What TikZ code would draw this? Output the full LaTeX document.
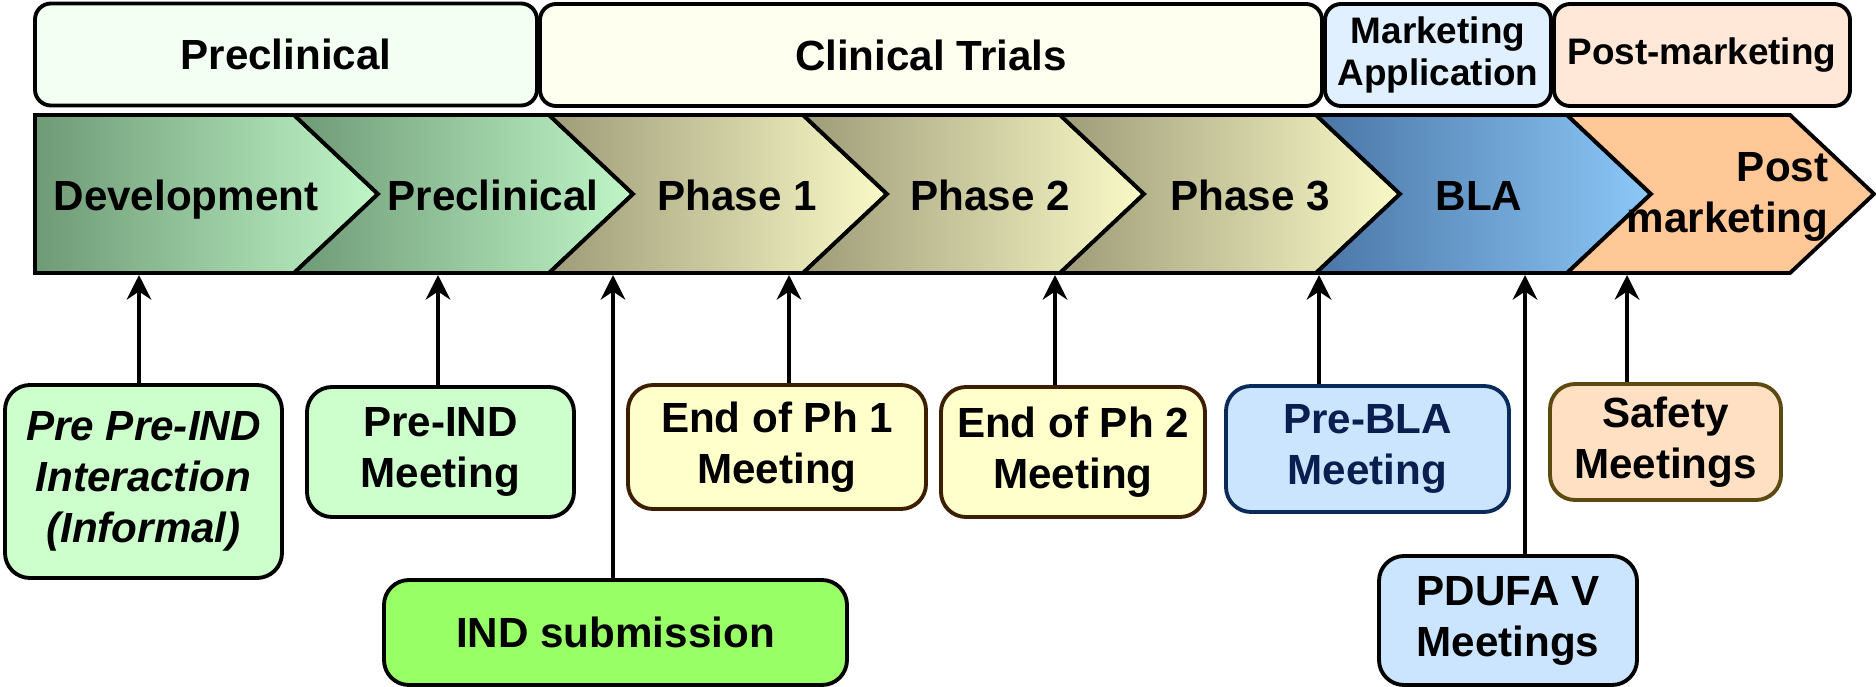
\documentclass[tikz,border=0pt]{standalone}
\usepackage{fontspec}
\setmainfont{Liberation Sans}
\usetikzlibrary{arrows.meta,positioning}
\definecolor{devdark}{HTML}{6E9A76}
\definecolor{devlight}{HTML}{C0F6C8}
\definecolor{phdark}{HTML}{9E9C78}
\definecolor{phlight}{HTML}{FAFAC8}
\definecolor{bladark}{HTML}{4A76A6}
\definecolor{blalight}{HTML}{8CC8F8}
\definecolor{postfill}{HTML}{FFC896}
\definecolor{preclbg}{HTML}{F4FFF4}
\definecolor{clinbg}{HTML}{FFFFF0}
\definecolor{markbg}{HTML}{E0F0FF}
\definecolor{postbg}{HTML}{FFE8D8}
\definecolor{meetgreen}{HTML}{CCFFCC}
\definecolor{meetyellow}{HTML}{FFFFCC}
\definecolor{indgreen}{HTML}{99FF66}
\definecolor{meetblue}{HTML}{CCE5FF}
\definecolor{meetpeach}{HTML}{FFE0C2}
\definecolor{brownline}{HTML}{3C1E00}
\definecolor{navyline}{HTML}{0A2A5A}
\definecolor{navytext}{HTML}{0A1E50}
\definecolor{oliveline}{HTML}{5C4A10}
\newcommand{\stagefont}{\bfseries\fontsize{12}{14.5}\selectfont}
\newcommand{\smallstagefont}{\bfseries\fontsize{10.5}{12.2}\selectfont}
\newcommand{\phasechev}[4]{%
  \path[chev, left color=#3, right color=#4]
    (#1,-1.15) -- (#2,-1.15) -- (#2+0.84,-1.94) -- (#2,-2.73)
    -- (#1,-2.73) -- (#1+0.84,-1.94) -- cycle;}
\tikzset{
  chev/.style={draw=black, line width=1.1pt, line join=miter},
  topbox/.style={draw=black, line width=1.1pt, rounded corners=0.16cm,
    minimum height=1.02cm, align=center, inner sep=1pt},
  meet/.style={draw=black, line width=1.1pt, rounded corners=0.25cm,
    align=center, inner sep=1pt},
  arr/.style={-{Stealth[length=7pt,width=7pt,inset=2.3pt]}, line width=1.3pt},
}

\begin{document}
\begin{tikzpicture}[font=\stagefont]
  \useasboundingbox (0,0) rectangle (18.76,-6.87);
  % headers
  \node[topbox, fill=preclbg, minimum width=5.02cm] (hPre) at (2.86,-0.545) {Preclinical};
  \node[topbox, fill=clinbg, minimum width=7.82cm] (hClin) at (9.31,-0.55) {Clinical Trials};
  \node[topbox, fill=markbg, minimum width=2.26cm, font=\smallstagefont] (hMark) at (14.38,-0.55) {Marketing\\Application};
  \node[topbox, fill=postbg, minimum width=2.96cm, font=\smallstagefont] (hPost) at (17.02,-0.55) {Post-marketing};
  % phase arrows
  \path[chev, left color=devdark, right color=devlight]
    (0.35,-1.15) -- (2.94,-1.15) -- (3.78,-1.94) -- (2.94,-2.73) -- (0.35,-2.73) -- cycle;
  \phasechev{2.94}{5.49}{devdark}{devlight}
  \phasechev{5.49}{8.03}{phdark}{phlight}
  \phasechev{8.03}{10.60}{phdark}{phlight}
  \phasechev{10.60}{13.16}{phdark}{phlight}
  \phasechev{13.16}{15.67}{bladark}{blalight}
  \phasechev{15.67}{17.90}{postfill}{postfill}
  \node[anchor=base] (sDev) at (1.86,-2.10) {Development};
  \node[anchor=base] (sPre) at (4.93,-2.10) {Preclinical};
  \node[anchor=base] (sPh1) at (7.37,-2.10) {Phase 1};
  \node[anchor=base] (sPh2) at (9.90,-2.10) {Phase 2};
  \node[anchor=base] (sPh3) at (12.50,-2.10) {Phase 3};
  \node[anchor=base] (sBLA) at (14.79,-2.10) {BLA};
  \node[align=right, anchor=east, inner sep=0pt] (sPost) at (18.29,-1.97) {Post\\marketing};
  % meetings
  \node[meet, fill=meetgreen, minimum width=2.77cm, minimum height=1.93cm,
    font=\stagefont\itshape] (mPrePre) at (1.435,-4.815) {Pre Pre-IND\\Interaction\\(Informal)};
  \node[meet, fill=meetgreen, minimum width=2.67cm, minimum height=1.30cm] (mPreIND) at (4.405,-4.52) {Pre-IND\\Meeting};
  \node[meet, fill=meetyellow, draw=brownline, minimum width=2.98cm, minimum height=1.24cm] (mEnd1) at (7.77,-4.47) {End of Ph 1\\Meeting};
  \node[meet, fill=indgreen, minimum width=4.63cm, minimum height=1.05cm] (mIND) at (6.155,-6.325) {IND submission};
  \node[meet, fill=meetyellow, draw=brownline, minimum width=2.64cm, minimum height=1.30cm] (mEnd2) at (10.73,-4.52) {End of Ph 2\\Meeting};
  \node[meet, fill=meetblue, draw=navyline, text=navytext, minimum width=2.83cm, minimum height=1.26cm] (mPreBLA) at (13.675,-4.49) {Pre-BLA\\Meeting};
  \node[meet, fill=meetblue, minimum width=2.58cm, minimum height=1.29cm] (mPDUFA) at (15.08,-6.205) {PDUFA V\\Meetings};
  \node[meet, fill=meetpeach, draw=oliveline, minimum width=2.31cm, minimum height=1.16cm] (mSafe) at (16.655,-4.42) {Safety\\Meetings};
  % arrow tips under the phases
  \coordinate (t1) at (1.39,-2.75);
  \coordinate (t2) at (4.38,-2.75);
  \coordinate (t3) at (6.13,-2.75);
  \coordinate (t4) at (7.89,-2.75);
  \coordinate (t5) at (10.55,-2.75);
  \coordinate (t6) at (13.19,-2.75);
  \coordinate (t7) at (15.25,-2.75);
  \coordinate (t8) at (16.27,-2.75);
  \path[arr]
  (t1 |- mPrePre.north) edge (t1)
  (t2 |- mPreIND.north) edge (t2)
  (t3 |- mIND.north) edge (t3)
  (t4 |- mEnd1.north) edge (t4)
  (t5 |- mEnd2.north) edge (t5)
  (t6 |- mPreBLA.north) edge (t6)
  (t7 |- mPDUFA.north) edge (t7)
  (t8 |- mSafe.north) edge (t8);
\end{tikzpicture}
\end{document}
